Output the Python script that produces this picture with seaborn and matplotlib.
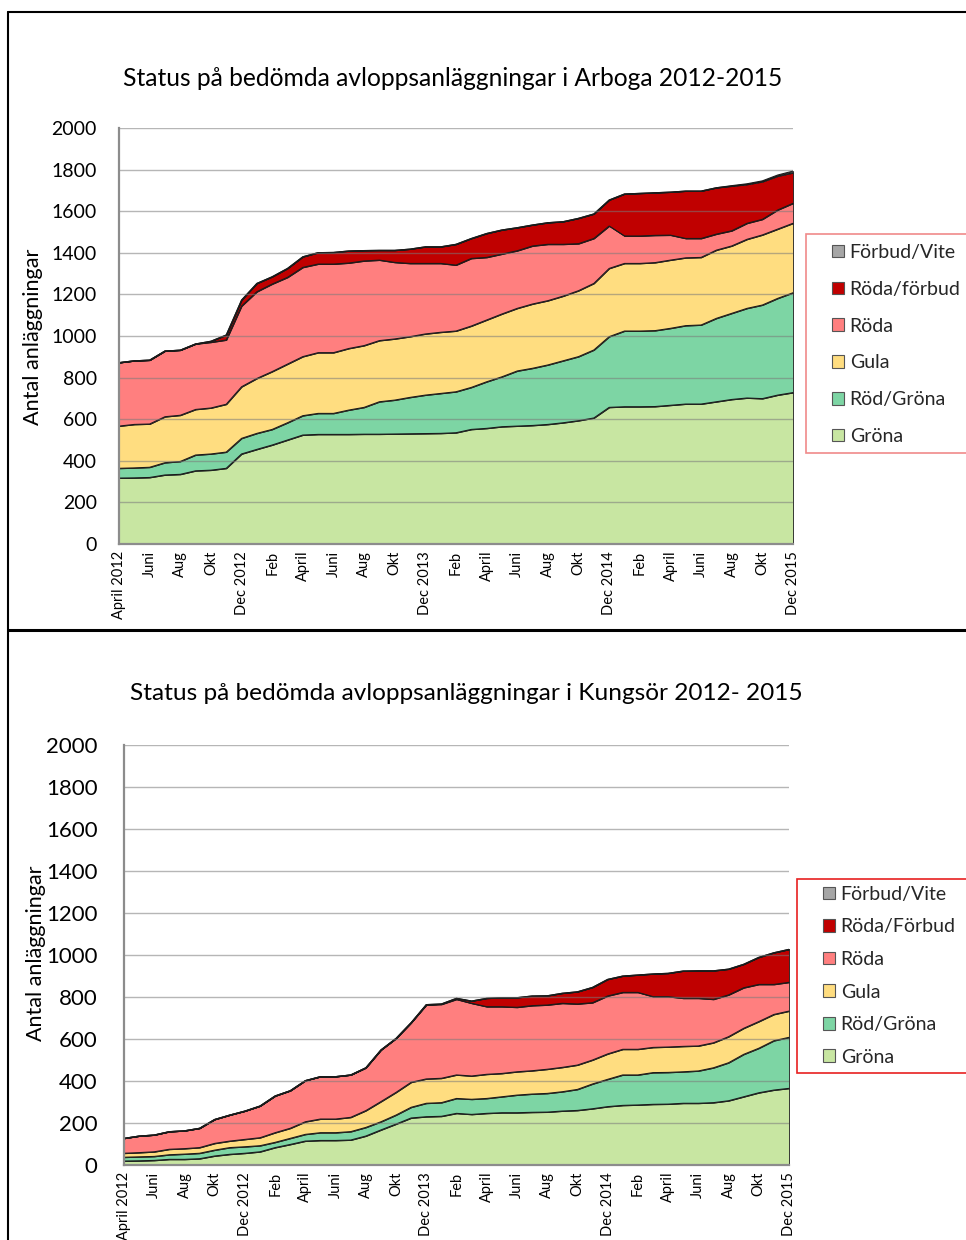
import numpy as np
import pandas as pd
import matplotlib
matplotlib.use("Agg")
import matplotlib.pyplot as plt
import seaborn as sns
from matplotlib.patches import Rectangle, Patch
from matplotlib.lines import Line2D

# ---------------- data ----------------
months = ["April 2012", "Maj", "Juni", "Juli", "Aug", "Sep", "Okt", "Nov", "Dec 2012",
          "Jan", "Feb", "Mars", "April", "Maj", "Juni", "Juli", "Aug", "Sep", "Okt", "Nov", "Dec 2013",
          "Jan", "Feb", "Mars", "April", "Maj", "Juni", "Juli", "Aug", "Sep", "Okt", "Nov", "Dec 2014",
          "Jan", "Feb", "Mars", "April", "Maj", "Juni", "Juli", "Aug", "Sep", "Okt", "Nov", "Dec 2015"]
tick_labels = ["April 2012", "Juni", "Aug", "Okt", "Dec 2012", "Feb", "April", "Juni", "Aug", "Okt",
               "Dec 2013", "Feb", "April", "Juni", "Aug", "Okt", "Dec 2014", "Feb", "April", "Juni",
               "Aug", "Okt", "Dec 2015"]

arboga_grona = [317, 318, 320, 332, 335, 352, 355, 364, 433, 455, 476, 500, 524, 527, 527,
                527, 528, 528, 529, 530, 531, 532, 535, 551, 556, 564, 567, 570, 575, 583,
                593, 606, 657, 660, 660, 661, 667, 673, 673, 684, 695, 702, 699, 716, 728]
arboga_rodgrona = [47, 48, 49, 59, 62, 76, 78, 78, 75, 77, 75, 83, 93, 101, 101,
                   117, 129, 156, 163, 175, 185, 192, 197, 202, 224, 240, 265, 275, 286, 298,
                   308, 327, 340, 364, 364, 365, 370, 377, 380, 401, 414, 431, 450, 465, 480]
arboga_gula = [203, 209, 208, 221, 222, 219, 221, 230, 248, 264, 278, 282, 284, 292, 292,
               296, 297, 294, 294, 292, 294, 294, 292, 295, 297, 302, 301, 309, 309, 311,
               317, 320, 328, 325, 325, 327, 328, 326, 325, 328, 324, 332, 337, 333, 334]
arboga_roda = [305, 306, 307, 316, 313, 315, 316, 309, 388, 417, 421, 417, 429, 426, 426,
               411, 407, 387, 368, 352, 339, 331, 317, 325, 301, 288, 277, 279, 271, 249,
               226, 216, 204, 132, 132, 131, 120, 93, 91, 77, 73, 77, 75, 92, 96]
arboga_rodaforbud = [0, 0, 0, 0, 0, 0, 5, 24, 29, 40, 35, 43, 51, 55, 56,
                     58, 50, 47, 58, 69, 80, 80, 100, 96, 115, 116, 111, 101, 104, 109,
                     122, 118, 125, 202, 205, 205, 207, 228, 228, 223, 215, 187, 181, 163, 147]
arboga_forbudvite = [0, 0, 0, 0, 0, 0, 0, 0, 0, 0, 0, 0, 0, 0, 0,
                     0, 0, 0, 0, 0, 0, 0, 0, 0, 0, 0, 0, 0, 0, 0,
                     0, 0, 0, 0, 0, 0, 0, 0, 0, 0, 2, 3, 4, 5, 8]

kungsor_grona = [19, 20, 22, 27, 27, 30, 43, 51, 56, 63, 83, 98, 114, 117, 117,
                 119, 138, 167, 195, 224, 230, 232, 246, 241, 246, 249, 249, 251, 252, 257,
                 260, 268, 278, 284, 286, 289, 290, 294, 294, 297, 306, 325, 344, 357, 365]
kungsor_rodgrona = [18, 19, 19, 22, 25, 26, 28, 32, 31, 29, 25, 29, 32, 37, 37,
                    40, 41, 39, 43, 51, 64, 65, 71, 72, 71, 76, 84, 87, 89, 92,
                    100, 118, 130, 145, 143, 151, 151, 150, 154, 166, 181, 202, 212, 235, 243]
kungsor_gula = [19, 20, 22, 26, 26, 27, 32, 31, 35, 38, 46, 48, 60, 65, 65,
                68, 80, 96, 108, 119, 116, 116, 112, 111, 115, 111, 111, 111, 115, 116,
                116, 114, 121, 122, 122, 120, 121, 121, 119, 119, 124, 124, 127, 125, 125]
kungsor_roda = [71, 79, 80, 84, 85, 92, 114, 124, 135, 151, 175, 179, 196, 202, 202,
                202, 204, 246, 257, 284, 352, 352, 360, 346, 322, 318, 307, 310, 306, 305,
                291, 273, 276, 271, 271, 242, 240, 229, 227, 207, 199, 193, 177, 143, 137]
kungsor_rodaforbud = [0, 0, 0, 0, 0, 0, 0, 0, 0, 0, 0, 0, 0, 0, 0,
                      0, 0, 0, 0, 0, 2, 2, 5, 11, 40, 43, 46, 46, 44, 48,
                      58, 73, 79, 78, 83, 108, 111, 130, 131, 136, 123, 112, 129, 151, 157]
kungsor_forbudvite = [0, 0, 0, 0, 0, 0, 0, 0, 0, 0, 0, 0, 0, 0, 0,
                      0, 0, 0, 0, 0, 0, 0, 0, 0, 0, 0, 0, 0, 0, 0,
                      0, 0, 0, 0, 0, 0, 0, 0, 0, 0, 0, 0, 0, 0, 0]

colors = ["#c8e6a2", "#7dd5a4", "#ffdd80", "#ff7f7f", "#c00000", "#a6a6a6"]

# ---------------- style ----------------
sns.set_theme(style="white")
plt.rcParams["font.family"] = ["Lato", "DejaVu Sans"]

W, H = 966, 1240
fig = plt.figure(figsize=(W / 100, H / 100), dpi=100)
fig.patch.set_facecolor("white")


def fx(px):
    return px / W


def fy(py):
    return 1 - py / H


panels = [
    dict(title="Status på bedömda avloppsanläggningar i Arboga 2012-2015",
         names=["Gröna", "Röd/Gröna", "Gula", "Röda", "Röda/förbud", "Förbud/Vite"],
         data=[arboga_grona, arboga_rodgrona, arboga_gula, arboga_roda,
               arboga_rodaforbud, arboga_forbudvite],
         box=(119, 128, 793, 544), title_xy=(453, 79), title_fs=17.7,
         ylab_xy=(33, 337), ylab_fs=15.6, ytick_fs=14, ytick_pad=16, xtick_fs=10.5,
         leg_box=(806, 234, 975, 453), leg_edge="#f08a8a", leg_xy=(826, 238),
         leg_fs=14, leg_spacing=1.02),
    dict(title="Status på bedömda avloppsanläggningar i Kungsör 2012- 2015",
         names=["Gröna", "Röd/Gröna", "Gula", "Röda", "Röda/Förbud", "Förbud/Vite"],
         data=[kungsor_grona, kungsor_rodgrona, kungsor_gula, kungsor_roda,
               kungsor_rodaforbud, kungsor_forbudvite],
         box=(124, 745, 789, 1165), title_xy=(466, 694), title_fs=17.6,
         ylab_xy=(36, 953), ylab_fs=15.5, ytick_fs=16, ytick_pad=19, xtick_fs=10.5,
         leg_box=(797, 879, 975, 1073), leg_edge="#e82020", leg_xy=(817, 880),
         leg_fs=14, leg_spacing=0.80),
]

x = np.arange(len(months))

for p in panels:
    l, t, r, b = p["box"]
    ax = fig.add_axes([fx(l), fy(b), (r - l) / W, (b - t) / H])
    ax.set_facecolor("white")

    ax.stackplot(x, *p["data"], colors=colors, edgecolor="#1a1a1a", linewidth=0.6, zorder=1)

    # boundary lines through seaborn
    cum = np.cumsum(np.array(p["data"]), axis=0)
    long = pd.DataFrame({
        "x": np.tile(x, len(p["names"])),
        "y": cum.ravel(),
        "serie": np.repeat(p["names"], len(x)),
    })
    sns.lineplot(data=long, x="x", y="y", units="serie", estimator=None,
                 color="#1a1a1a", linewidth=0.75, ax=ax, legend=False, zorder=2)

    ax.set_xlim(0, len(months) - 1)
    ax.set_ylim(0, 2000)
    ax.set_yticks(np.arange(0, 2001, 200))
    ax.set_yticklabels([str(v) for v in range(0, 2001, 200)], fontsize=p["ytick_fs"], color="#000000")
    ax.set_xticks(x[::2])
    ax.set_xticklabels(tick_labels, rotation=90, fontsize=p["xtick_fs"], color="#000000")
    ax.tick_params(axis="y", length=0, pad=p["ytick_pad"])
    ax.tick_params(axis="x", length=0, pad=5)
    ax.set_xlabel("")
    ax.set_ylabel("")

    ax.set_axisbelow(False)
    ax.yaxis.grid(True, color="#7a7a7a", alpha=0.55, linewidth=1.0)
    ax.xaxis.grid(False)
    for side in ["left", "bottom"]:
        ax.spines[side].set_visible(True)
        ax.spines[side].set_color("#8c8c8c")
        ax.spines[side].set_linewidth(1.6)
        ax.spines[side].set_zorder(5)
    ax.spines["top"].set_visible(False)
    ax.spines["right"].set_visible(False)

    fig.text(fx(p["title_xy"][0]), fy(p["title_xy"][1]), p["title"], ha="center", va="center",
             fontsize=p["title_fs"], color="#000000")
    fig.text(fx(p["ylab_xy"][0]), fy(p["ylab_xy"][1]), "Antal anläggningar", rotation=90,
             ha="center", va="center", fontsize=p["ylab_fs"], color="#000000")

    # legend
    lx0, ly0, lx1, ly1 = p["leg_box"]
    fig.patches.append(Rectangle((fx(lx0), fy(ly1)), (lx1 - lx0) / W, (ly1 - ly0) / H,
                                 transform=fig.transFigure, facecolor="white",
                                 edgecolor=p["leg_edge"], linewidth=1.2, clip_on=False, zorder=0))
    handles = [Patch(facecolor=c, edgecolor="#555555", linewidth=0.8) for c in colors][::-1]
    labels = p["names"][::-1]
    fig.legend(handles, labels, loc="upper left",
               bbox_to_anchor=(fx(p["leg_xy"][0]), fy(p["leg_xy"][1])),
               frameon=False, fontsize=p["leg_fs"], handlelength=0.62, handleheight=0.62,
               handletextpad=0.3, labelspacing=p["leg_spacing"], borderpad=0.3,
               borderaxespad=0)

# panel frames
fig.add_artist(Line2D([fx(8), 1.0], [fy(12), fy(12)], color="black", linewidth=1.5,
                      transform=fig.transFigure))
fig.add_artist(Line2D([fx(8), fx(8)], [fy(12), 0.0], color="black", linewidth=1.5,
                      transform=fig.transFigure))
fig.add_artist(Line2D([fx(8), 1.0], [fy(630), fy(630)], color="black", linewidth=2.2,
                      transform=fig.transFigure))

fig.savefig("out.png", dpi=100, facecolor="white")
